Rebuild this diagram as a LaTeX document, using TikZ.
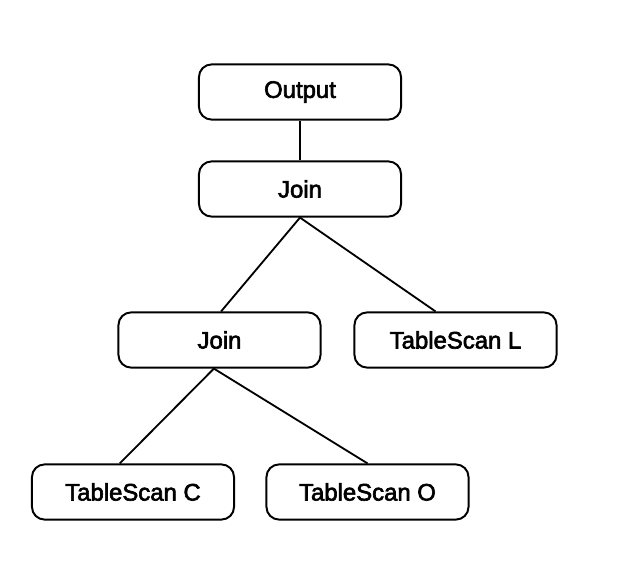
\documentclass[tikz,border=0pt]{standalone}
\usepackage{fontspec}
\setmainfont{Liberation Sans}
\newfontfamily\opfont[FakeBold=2.6]{Liberation Sans}
\usepackage{tikz}
\usetikzlibrary{positioning}

\begin{document}
\begin{tikzpicture}[
  x=0.025cm, y=-0.025cm,
  op/.style={draw, line width=1.4pt, rounded corners=9pt,
    minimum width=5.05cm, minimum height=1.38cm,
    font=\opfont\fontsize{17}{20}\selectfont},
  link/.style={line width=1.3pt},
]
  \useasboundingbox (0,0) rectangle (640,585);

  % Operators
  \node[op] (output) at (300,92) {Output};
  \node[op] (joinA) at (300,189) {Join};
  \node[op] (joinB) at (219.5,340) {Join};
  \node[op] (scanL) at (455.5,340) {TableScan L};
  \node[op] (scanC) at (133,492) {TableScan C};
  \node[op] (scanO) at (367.5,492) {TableScan O};

  % Edges
  \draw[link] (output.south) -- (joinA.north);
  \draw[link] (joinA.south) -- ([xshift=0.04cm]joinB.north);
  \draw[link] (joinA.south) -- ([xshift=-0.5cm]scanL.north);
  \draw[link] ([xshift=-0.14cm]joinB.south) -- ([xshift=-0.33cm]scanC.north);
  \draw[link] ([xshift=-0.14cm]joinB.south) -- (scanO.north);

\end{tikzpicture}
\end{document}
